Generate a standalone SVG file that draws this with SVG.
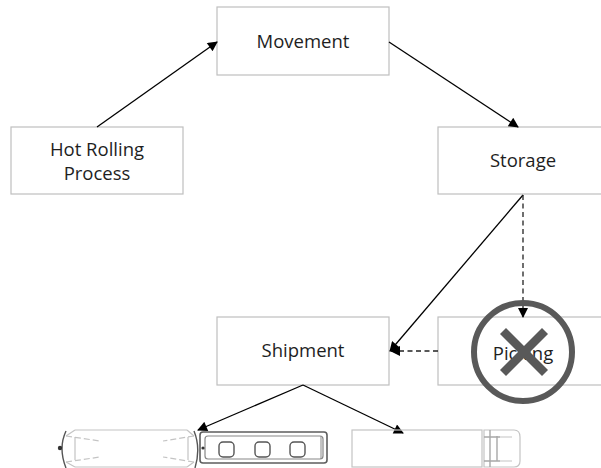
<svg xmlns="http://www.w3.org/2000/svg" width="601" height="468" viewBox="0 0 601 468">
  <style>
    .box { fill: #ffffff; stroke: #bfbfbf; stroke-width: 1.2; }
    .lbl { font-family: "Open Sans", "Noto Sans", "Liberation Sans", sans-serif; font-size: 18.5px; fill: #1e1e1e; text-anchor: middle; }
    .edge { fill: none; stroke: #000000; stroke-width: 1.3; }
    .dash { stroke-dasharray: 5 3.5; stroke: #222222; }
    .veh { fill: none; stroke: #c4c4c4; stroke-width: 1.2; }
    .vehdark { fill: none; stroke: #555555; stroke-width: 1.4; }
    .ban { fill: none; stroke: #595959; }
  </style>
  <defs>
    <marker id="arrow" viewBox="0 0 10 10" refX="9" refY="5" markerWidth="12" markerHeight="10" markerUnits="userSpaceOnUse" orient="auto">
      <path d="M0,0 L10,5 L0,10 Z" fill="#000000"/>
    </marker>
  </defs>

  <rect width="601" height="468" fill="#ffffff"/>

  <!-- process steps -->
  <g id="node-hot-rolling">
    <rect class="box" x="11" y="127" width="172" height="67"/>
    <text class="lbl" x="97" y="156">Hot Rolling</text>
    <text class="lbl" x="97" y="180">Process</text>
  </g>
  <g id="node-movement">
    <rect class="box" x="217" y="7" width="172" height="68"/>
    <text class="lbl" x="303" y="48">Movement</text>
  </g>
  <g id="node-storage">
    <rect class="box" x="438" y="127" width="172" height="67"/>
    <text class="lbl" x="523" y="167">Storage</text>
  </g>
  <g id="node-shipment">
    <rect class="box" x="217" y="317" width="172" height="68"/>
    <text class="lbl" x="303" y="357">Shipment</text>
  </g>
  <g id="node-picking">
    <rect class="box" x="438" y="317" width="172" height="68"/>
    <text class="lbl" x="523" y="360">Picking</text>
  </g>

  <!-- flows between steps -->
  <g id="connectors">
    <line class="edge" x1="97" y1="127" x2="217" y2="42" marker-end="url(#arrow)"/>
    <line class="edge" x1="389" y1="42" x2="518" y2="127" marker-end="url(#arrow)"/>
    <line class="edge" x1="523" y1="195" x2="390" y2="351" marker-end="url(#arrow)"/>
    <line class="edge dash" x1="523" y1="195" x2="523" y2="317" marker-end="url(#arrow)"/>
    <line class="edge dash" x1="438" y1="351" x2="391" y2="351" marker-end="url(#arrow)"/>
    <line class="edge" x1="303" y1="385" x2="198" y2="430" marker-end="url(#arrow)"/>
    <line class="edge" x1="303" y1="385" x2="403" y2="433" marker-end="url(#arrow)"/>
  </g>

  <!-- "not allowed" sign over the picking step -->
  <g id="picking-blocked">
    <circle class="ban" cx="523" cy="352" r="49" stroke-width="6"/>
    <line class="ban" x1="503" y1="331" x2="545" y2="373" stroke-width="8.5"/>
    <line class="ban" x1="545" y1="331" x2="503" y2="373" stroke-width="8.5"/>
  </g>

  <!-- vehicle on the left: trailer body and cab -->
  <g id="truck-left">
    <path class="veh" d="M75,430 L187,430 M75,467 L187,467"/>
    <path class="veh" stroke-dasharray="6 3" d="M66,436 L100,441 M66,462 L100,457 M194,436 L163,441 M194,462 L163,457"/>
    <path class="veh" d="M75,437 L75,460 M188,437 L188,460 M75,430 L66,436 M75,467 L66,462 M187,430 L194,436 M187,467 L194,462"/>
    <path class="vehdark" d="M66,431 Q58,448 66,468"/>
    <path class="vehdark" d="M194,431 Q201,448 195,468"/>
    <circle cx="60" cy="448" r="2.2" fill="#333333"/>
    <rect x="200" y="432" width="127" height="31" rx="3" fill="none" stroke="#5e5e5e" stroke-width="1.6"/>
    <rect x="205" y="436" width="118" height="23" rx="3" fill="none" stroke="#888888" stroke-width="1.2"/>
    <line x1="321" y1="436" x2="321" y2="459" stroke="#8a8a8a" stroke-width="1"/>
    <rect x="219" y="442" width="15" height="15" rx="4" fill="none" stroke="#555555" stroke-width="1.4"/>
    <rect x="255" y="442" width="15" height="15" rx="4" fill="none" stroke="#555555" stroke-width="1.4"/>
    <rect x="290" y="442" width="15" height="15" rx="4" fill="none" stroke="#555555" stroke-width="1.4"/>
    <circle cx="203" cy="448" r="1.6" fill="#333333"/>
  </g>

  <!-- vehicle on the right: trailer and cab -->
  <g id="truck-right">
    <rect class="veh" x="352" y="430" width="130" height="37"/>
    <path class="veh" d="M484,430 L514,430 Q520,430 520,437 L520,461 Q520,467 514,467 L484,467 Z"/>
    <path d="M490,430 L490,467 M497,436 L497,461 M484,437 L500,437 M484,461 L500,461" fill="none" stroke="#a8a8a8" stroke-width="1.4"/>
    <path class="veh" d="M500,437 L512,437 M500,461 L512,461"/>
  </g>
</svg>
